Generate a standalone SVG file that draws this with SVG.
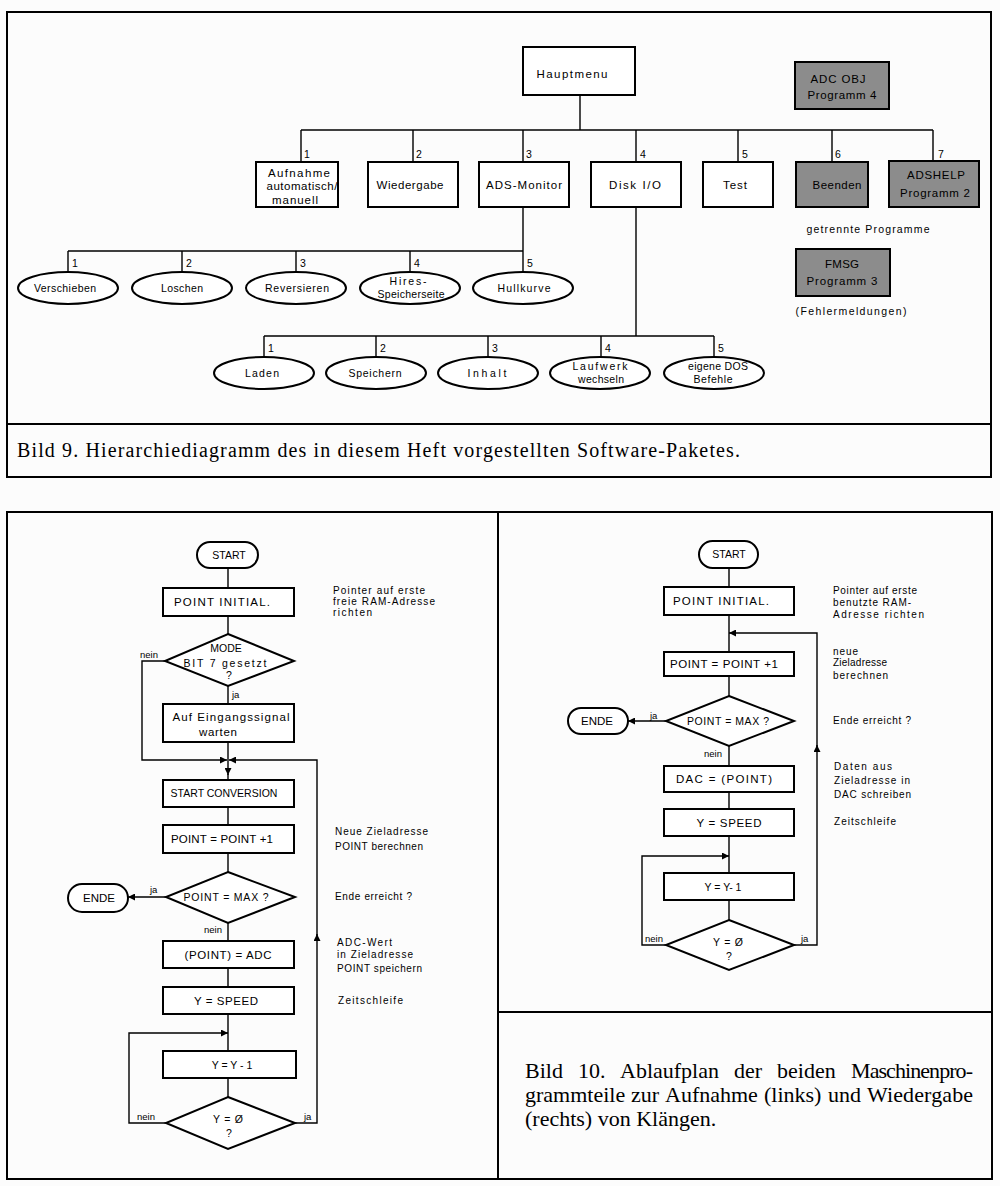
<svg xmlns="http://www.w3.org/2000/svg" width="1000" height="1186" viewBox="0 0 1000 1186">
<defs>
<marker id="ah" viewBox="0 0 10 10" refX="10" refY="5" markerWidth="9" markerHeight="7" markerUnits="userSpaceOnUse" orient="auto"><path d="M0,0 L10,5 L0,10 z" fill="#000"/></marker>
<style>
.frame{fill:none;stroke:#000;stroke-width:2}
.box{fill:#fff;stroke:#000;stroke-width:2}
.gbox{fill:#8c8c8c;stroke:#000;stroke-width:2}
.ell{fill:#fff;stroke:#000;stroke-width:2}
.ln{fill:none;stroke:#000;stroke-width:1.4}
.arr{fill:none;stroke:#000;stroke-width:1.4;marker-end:url(#ah)}
text{font-family:"Liberation Sans","DejaVu Sans",sans-serif;fill:#000}
.t{font-size:11.5px;text-anchor:middle}
.s{font-size:10.5px;text-anchor:middle}
.n{font-size:10.5px}
.note{font-size:10px}
.lab{font-size:9.5px}
.cap{font-family:"Liberation Serif","Times New Roman",serif;font-size:20px;fill:#000}
.cap2{font-family:"Liberation Serif","Times New Roman",serif;font-size:22px;fill:#000}
</style>
</defs>
<rect width="1000" height="1186" fill="#fcfcfc"/>

<!-- Frames -->
<g id="frames">
<rect class="frame" x="7" y="12" width="984" height="465"/>
<line class="frame" x1="7" y1="424" x2="991" y2="424"/>
<rect class="frame" x="7" y="512" width="985" height="667"/>
<line class="frame" x1="498" y1="512" x2="498" y2="1179"/>
<line class="frame" x1="498" y1="1012" x2="992" y2="1012"/>
</g>

<!-- Connectors -->
<g id="connectors">
<path class="ln" d="M580,95 V130 M301,130 H933 M301,130 V162 M413,130 V162 M523,130 V162 M636,130 V162 M738,130 V162 M832,130 V162 M933,130 V161"/>
<path class="ln" d="M523,207 V251 M68,251 H523 M68,251 V272 M182,251 V272 M296,251 V272 M410,251 V272 M523,251 V272"/>
<path class="ln" d="M636,207 V336 M264,336 H714 M264,336 V357 M376,336 V357 M488,336 V357 M601,336 V357 M714,336 V357"/>
<!-- left flowchart -->
<path class="ln" d="M228,568 V588 M228,616 V634 M228,686 V704 M228,807 V825 M228,853 V872 M228,923 V941 M228,968 V987 M228,1014 V1051 M228,1078 V1097 M228,774 V780"/>
<path class="arr" d="M228,742 V775"/>
<path class="arr" d="M165,661 H142 V760 H227"/>
<path class="arr" d="M166,897 H128"/>
<path class="arr" d="M166,1123 H129 V1033 H228"/>
<path class="arr" d="M295,1123 H317 V934"/>
<path class="arr" d="M317,936 V760 H229"/>
<!-- right flowchart -->
<path class="ln" d="M729,568 V587 M729,615 V652 M729,676 V696 M729,746 V766 M729,792 V809 M729,836 V873 M729,900 V920"/>
<path class="arr" d="M666,721 H628"/>
<path class="arr" d="M666,945 H642 V856 H729"/>
<path class="arr" d="M794,945 H817 V745"/>
<path class="arr" d="M817,747 V633 H729"/>
</g>

<!-- Top hierarchy nodes -->
<g id="hauptmenu"><rect class="box" x="523" y="47" width="112" height="48"/><text class="t" x="572" y="78" textLength="71" lengthAdjust="spacing">Hauptmenu</text></g>
<g id="adcobj"><rect class="gbox" x="795" y="62" width="94" height="47"/><text class="t" x="838" y="83" textLength="55" lengthAdjust="spacing">ADC OBJ</text><text class="t" x="842" y="99" textLength="69" lengthAdjust="spacing">Programm 4</text></g>

<g id="n1"><rect class="box" x="256" y="162" width="82" height="45"/><text class="t" x="299" y="177" textLength="62" lengthAdjust="spacing">Aufnahme</text><text class="t" x="302" y="190" textLength="71" lengthAdjust="spacing">automatisch/</text><text class="t" x="295" y="204" textLength="46" lengthAdjust="spacing">manuell</text><text class="n" x="304" y="158">1</text></g>
<g id="n2"><rect class="box" x="368" y="162" width="90" height="45"/><text class="t" x="410" y="189" textLength="67" lengthAdjust="spacing">Wiedergabe</text><text class="n" x="416" y="158">2</text></g>
<g id="n3"><rect class="box" x="479" y="162" width="90" height="45"/><text class="t" x="524" y="189" textLength="76" lengthAdjust="spacing">ADS-Monitor</text><text class="n" x="526" y="158">3</text></g>
<g id="n4"><rect class="box" x="591" y="162" width="90" height="45"/><text class="t" x="635" y="189" textLength="52" lengthAdjust="spacing">Disk I/O</text><text class="n" x="640" y="158">4</text></g>
<g id="n5"><rect class="box" x="703" y="162" width="70" height="45"/><text class="t" x="735" y="189" textLength="24" lengthAdjust="spacing">Test</text><text class="n" x="742" y="158">5</text></g>
<g id="n6"><rect class="gbox" x="796" y="162" width="72" height="45"/><text class="t" x="837" y="189" textLength="49" lengthAdjust="spacing">Beenden</text><text class="n" x="835" y="158">6</text></g>
<g id="n7"><rect class="gbox" x="889" y="161" width="90" height="46"/><text class="t" x="936" y="179" textLength="58" lengthAdjust="spacing">ADSHELP</text><text class="t" x="935" y="197" textLength="70" lengthAdjust="spacing">Programm 2</text><text class="n" x="938" y="158">7</text></g>
<g id="getrennt"><text class="s" x="868" y="233" textLength="123" lengthAdjust="spacing">getrennte Programme</text></g>
<g id="fmsg"><rect class="gbox" x="796" y="249" width="94" height="47"/><text class="t" x="842" y="268" textLength="34" lengthAdjust="spacing">FMSG</text><text class="t" x="842" y="285" textLength="71" lengthAdjust="spacing">Programm 3</text><text class="s" x="851" y="315" textLength="111" lengthAdjust="spacing">(Fehlermeldungen)</text></g>

<!-- ADS-Monitor children -->
<g id="m1"><ellipse class="ell" cx="68" cy="288" rx="50" ry="16"/><text class="s" x="65" y="292" textLength="62" lengthAdjust="spacing">Verschieben</text><text class="n" x="72" y="267">1</text></g>
<g id="m2"><ellipse class="ell" cx="182" cy="288" rx="50" ry="16"/><text class="s" x="182" y="292" textLength="42" lengthAdjust="spacing">Loschen</text><text class="n" x="186" y="267">2</text></g>
<g id="m3"><ellipse class="ell" cx="296" cy="288" rx="50" ry="16"/><text class="s" x="297" y="292" textLength="64" lengthAdjust="spacing">Reversieren</text><text class="n" x="300" y="267">3</text></g>
<g id="m4"><ellipse class="ell" cx="410" cy="288" rx="50" ry="16"/><text class="s" x="408" y="285" textLength="37" lengthAdjust="spacing">Hires-</text><text class="s" x="411" y="298" textLength="67" lengthAdjust="spacing">Speicherseite</text><text class="n" x="414" y="267">4</text></g>
<g id="m5"><ellipse class="ell" cx="523" cy="288" rx="50" ry="16"/><text class="s" x="524" y="292" textLength="53" lengthAdjust="spacing">Hullkurve</text><text class="n" x="527" y="267">5</text></g>

<!-- Disk I/O children -->
<g id="d1"><ellipse class="ell" cx="264" cy="373" rx="50" ry="16"/><text class="s" x="262" y="377" textLength="34" lengthAdjust="spacing">Laden</text><text class="n" x="268" y="352">1</text></g>
<g id="d2"><ellipse class="ell" cx="376" cy="373" rx="50" ry="16"/><text class="s" x="375" y="377" textLength="53" lengthAdjust="spacing">Speichern</text><text class="n" x="380" y="352">2</text></g>
<g id="d3"><ellipse class="ell" cx="488" cy="373" rx="50" ry="16"/><text class="s" x="487" y="377" textLength="39" lengthAdjust="spacing">Inhalt</text><text class="n" x="492" y="352">3</text></g>
<g id="d4"><ellipse class="ell" cx="600" cy="373" rx="50" ry="16"/><text class="s" x="600" y="370" textLength="55" lengthAdjust="spacing">Laufwerk</text><text class="s" x="601" y="383" textLength="46" lengthAdjust="spacing">wechseln</text><text class="n" x="605" y="352">4</text></g>
<g id="d5"><ellipse class="ell" cx="714" cy="373" rx="50" ry="16"/><text class="s" x="718" y="370" textLength="60" lengthAdjust="spacing">eigene DOS</text><text class="s" x="713" y="383" textLength="39" lengthAdjust="spacing">Befehle</text><text class="n" x="718" y="352">5</text></g>

<g id="caption9"><text class="cap" x="17" y="457" textLength="723" lengthAdjust="spacing">Bild 9. Hierarchiediagramm des in diesem Heft vorgestellten Software-Paketes.</text></g>

<!-- Left flowchart -->
<g id="l-start"><rect class="box" x="197" y="542" width="61" height="26" rx="13"/><text class="s" x="229" y="559">START</text></g>
<g id="l-init"><rect class="box" x="163" y="588" width="131" height="28"/><text class="t" x="222" y="606" textLength="96" lengthAdjust="spacing">POINT INITIAL.</text></g>
<g id="l-note1"><text class="note" x="333" y="594" textLength="92" lengthAdjust="spacing">Pointer auf erste</text><text class="note" x="333" y="605" textLength="102" lengthAdjust="spacing">freie RAM-Adresse</text><text class="note" x="333" y="616" textLength="39" lengthAdjust="spacing">richten</text></g>
<g id="l-mode"><polygon class="box" points="228,634 294,661 228,686 165,661"/><text class="s" x="226" y="652">MODE</text><text class="s" x="225" y="667" textLength="83" lengthAdjust="spacing">BIT 7 gesetzt</text><text class="s" x="229" y="679">?</text><text class="lab" x="140" y="658">nein</text><text class="lab" x="232" y="698">ja</text></g>
<g id="l-wait"><rect class="box" x="163" y="704" width="131" height="38"/><text class="t" x="231" y="721" textLength="117" lengthAdjust="spacing">Auf Eingangssignal</text><text class="t" x="218" y="736" textLength="38" lengthAdjust="spacing">warten</text></g>
<g id="l-conv"><rect class="box" x="163" y="780" width="131" height="27"/><text class="s" x="224" y="797">START CONVERSION</text></g>
<g id="l-inc"><rect class="box" x="163" y="825" width="131" height="28"/><text class="t" x="222" y="843" textLength="102" lengthAdjust="spacing">POINT = POINT +1</text></g>
<g id="l-note2"><text class="note" x="335" y="835" textLength="93" lengthAdjust="spacing">Neue Zieladresse</text><text class="note" x="335" y="850" textLength="88" lengthAdjust="spacing">POINT berechnen</text></g>
<g id="l-max"><polygon class="box" points="228,872 295,897 228,923 166,897"/><text class="s" x="226" y="901" textLength="85" lengthAdjust="spacing">POINT = MAX ?</text><text class="lab" x="150" y="893">ja</text><text class="lab" x="204" y="933">nein</text></g>
<g id="l-ende"><rect class="box" x="68" y="884" width="60" height="28" rx="14"/><text class="t" x="99" y="902" textLength="32" lengthAdjust="spacing">ENDE</text></g>
<g id="l-note3"><text class="note" x="335" y="900" textLength="77" lengthAdjust="spacing">Ende erreicht ?</text></g>
<g id="l-adc"><rect class="box" x="163" y="941" width="131" height="27"/><text class="t" x="228" y="959" textLength="87" lengthAdjust="spacing">(POINT) = ADC</text></g>
<g id="l-note4"><text class="note" x="337" y="946" textLength="55" lengthAdjust="spacing">ADC-Wert</text><text class="note" x="337" y="958" textLength="76" lengthAdjust="spacing">in Zieladresse</text><text class="note" x="337" y="972" textLength="85" lengthAdjust="spacing">POINT speichern</text></g>
<g id="l-speed"><rect class="box" x="163" y="987" width="131" height="27"/><text class="t" x="226" y="1005" textLength="64" lengthAdjust="spacing">Y = SPEED</text></g>
<g id="l-note5"><text class="note" x="338" y="1004" textLength="65" lengthAdjust="spacing">Zeitschleife</text></g>
<g id="l-dec"><rect class="box" x="163" y="1051" width="133" height="27"/><text class="s" x="232" y="1069">Y = Y - 1</text></g>
<g id="l-zero"><polygon class="box" points="228,1097 295,1123 228,1149 166,1123"/><text class="s" x="228" y="1123" textLength="30" lengthAdjust="spacing">Y = Ø</text><text class="s" x="229" y="1137">?</text><text class="lab" x="137" y="1120">nein</text><text class="lab" x="304" y="1120">ja</text></g>

<!-- Right flowchart -->
<g id="r-start"><rect class="box" x="699" y="541" width="59" height="27" rx="13.5"/><text class="s" x="729" y="558">START</text></g>
<g id="r-init"><rect class="box" x="664" y="587" width="130" height="28"/><text class="t" x="721" y="605" textLength="96" lengthAdjust="spacing">POINT INITIAL.</text></g>
<g id="r-note1"><text class="note" x="833" y="594" textLength="84" lengthAdjust="spacing">Pointer auf erste</text><text class="note" x="833" y="606" textLength="78" lengthAdjust="spacing">benutzte RAM-</text><text class="note" x="833" y="618" textLength="91" lengthAdjust="spacing">Adresse richten</text></g>
<g id="r-inc"><rect class="box" x="664" y="652" width="130" height="24"/><text class="t" x="724" y="668" textLength="108" lengthAdjust="spacing">POINT = POINT +1</text></g>
<g id="r-note2"><text class="note" x="833" y="655" textLength="25" lengthAdjust="spacing">neue</text><text class="note" x="833" y="666" textLength="54" lengthAdjust="spacing">Zieladresse</text><text class="note" x="833" y="679" textLength="55" lengthAdjust="spacing">berechnen</text></g>
<g id="r-max"><polygon class="box" points="729,696 794,721 729,746 666,721"/><text class="s" x="728" y="725" textLength="82" lengthAdjust="spacing">POINT = MAX ?</text><text class="lab" x="650" y="719">ja</text><text class="lab" x="704" y="757">nein</text></g>
<g id="r-ende"><rect class="box" x="568" y="708" width="60" height="26" rx="13"/><text class="t" x="597" y="725" textLength="32" lengthAdjust="spacing">ENDE</text></g>
<g id="r-note3"><text class="note" x="833" y="724" textLength="78" lengthAdjust="spacing">Ende erreicht ?</text></g>
<g id="r-dac"><rect class="box" x="664" y="766" width="130" height="26"/><text class="t" x="724" y="783" textLength="96" lengthAdjust="spacing">DAC = (POINT)</text></g>
<g id="r-note4"><text class="note" x="834" y="770" textLength="58" lengthAdjust="spacing">Daten aus</text><text class="note" x="834" y="784" textLength="76" lengthAdjust="spacing">Zieladresse in</text><text class="note" x="834" y="798" textLength="77" lengthAdjust="spacing">DAC schreiben</text></g>
<g id="r-speed"><rect class="box" x="664" y="809" width="130" height="27"/><text class="t" x="729" y="827" textLength="65" lengthAdjust="spacing">Y = SPEED</text></g>
<g id="r-note5"><text class="note" x="834" y="825" textLength="62" lengthAdjust="spacing">Zeitschleife</text></g>
<g id="r-dec"><rect class="box" x="664" y="873" width="130" height="27"/><text class="s" x="723" y="891">Y = Y- 1</text></g>
<g id="r-zero"><polygon class="box" points="729,920 794,945 729,970 666,945"/><text class="s" x="728" y="946" textLength="30" lengthAdjust="spacing">Y = Ø</text><text class="s" x="729" y="960">?</text><text class="lab" x="645" y="942">nein</text><text class="lab" x="801" y="942">ja</text></g>

<g id="caption10">
<text class="cap2"><tspan x="525" y="1078">Bild</tspan><tspan x="578" y="1078">10.</tspan><tspan x="620" y="1078">Ablaufplan</tspan><tspan x="734" y="1078">der</tspan><tspan x="777" y="1078">beiden</tspan><tspan x="851" y="1078" textLength="122" lengthAdjust="spacing">Maschinenpro-</tspan></text>
<text class="cap2"><tspan x="525" y="1102">grammteile</tspan><tspan x="631" y="1102">zur</tspan><tspan x="665" y="1102">Aufnahme</tspan><tspan x="764" y="1102">(links)</tspan><tspan x="828" y="1102">und</tspan><tspan x="867" y="1102" textLength="106" lengthAdjust="spacing">Wiedergabe</tspan></text>
<text class="cap2" x="525" y="1126">(rechts) von Klängen.</text>
</g>
</svg>
